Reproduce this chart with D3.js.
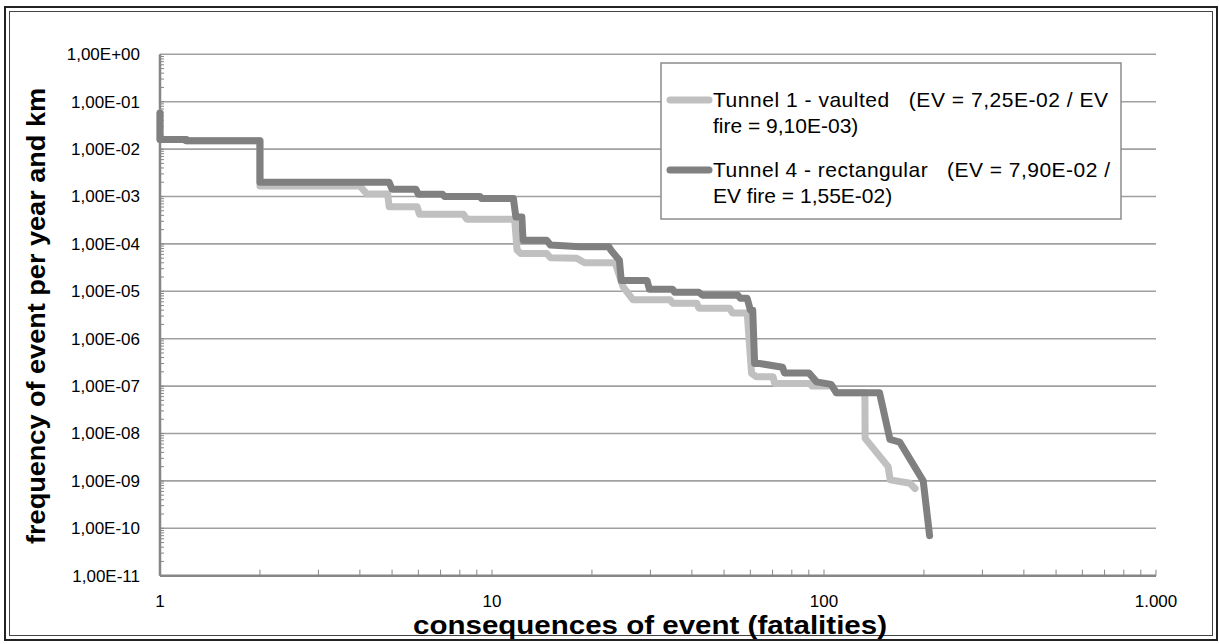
<!DOCTYPE html>
<html>
<head>
<meta charset="utf-8">
<script src="https://cdn.jsdelivr.net/npm/d3@7"></script>
<style>
  body { margin: 0; background: #fff; }
  text { font-family: "Liberation Sans", Arial, sans-serif; }
</style>
</head>
<body>
<div id="chart"></div>
<script>
const width = 1219;
const height = 644;

// data
const tunnel1X = [1, 1, 1.2, 1.2, 2, 2, 4.0, 4.2, 4.85, 4.9, 5.95, 6.05, 8.2, 8.4, 11.7, 11.9, 12.2,
  14.6, 15, 18, 19, 23.5, 24.8, 26.6, 34.4, 35, 41.4, 42, 52, 53, 58.7, 60.5, 62.5, 70.2, 71,
  90.7, 92, 106, 109, 132.8, 133, 156, 158.3, 181.6, 188];
const tunnel1Y = [5.8e-2, 1.6e-2, 1.6e-2, 1.5e-2, 1.5e-2, 1.67e-3, 1.67e-3, 1.13e-3, 1.13e-3, 6.1e-4,
  6.1e-4, 4.2e-4, 4.2e-4, 3.3e-4, 3.3e-4, 7.4e-5, 6.3e-5, 6.3e-5, 5.1e-5, 5.0e-5, 4.0e-5, 4.0e-5,
  1.25e-5, 6.6e-6, 6.6e-6, 5.6e-6, 5.6e-6, 4.4e-6, 4.4e-6, 3.5e-6, 3.5e-6, 1.86e-7, 1.58e-7, 1.58e-7,
  1.14e-7, 1.14e-7, 1.0e-7, 1.0e-7, 7.2e-8, 7.2e-8, 7.9e-9, 2.0e-9, 1.05e-9, 8.9e-10, 6.9e-10];

const tunnel4X = [1, 1, 1.2, 1.2, 2, 2, 4.9, 5.0, 5.9, 6.0, 7.1, 7.2, 9.2, 9.3, 11.6, 11.8, 12.3, 12.4,
  14.6, 15, 18.4, 22.5, 22.8, 24.2, 24.5, 29.3, 29.8, 35, 35.5, 42, 43, 55, 56, 58.7, 60, 61, 61.8,
  64, 75, 76, 90, 95, 105, 109, 147, 158, 169, 199, 208];
const tunnel4Y = [5.8e-2, 1.6e-2, 1.6e-2, 1.5e-2, 1.5e-2, 2.0e-3, 2.0e-3, 1.42e-3, 1.42e-3, 1.11e-3,
  1.11e-3, 1.0e-3, 1.0e-3, 9.1e-4, 9.1e-4, 3.7e-4, 3.7e-4, 1.2e-4, 1.2e-4, 9.5e-5, 8.7e-5, 8.7e-5,
  7.4e-5, 4.5e-5, 1.7e-5, 1.7e-5, 1.1e-5, 1.1e-5, 9.5e-6, 9.5e-6, 8.3e-6, 8.3e-6, 7.1e-6, 7.1e-6,
  4.0e-6, 4.0e-6, 3.0e-7, 3.0e-7, 2.5e-7, 1.9e-7, 1.9e-7, 1.23e-7, 1.09e-7, 7.2e-8, 7.2e-8, 7.5e-9,
  6.6e-9, 1.0e-9, 7e-11];

const seriesNames = ["Tunnel 1 - vaulted", "Tunnel 4 - rectangular"];
const legendLines = [
  ["Tunnel 1 - vaulted   (EV = 7,25E-02 / EV", "fire = 9,10E-03)"],
  ["Tunnel 4 - rectangular   (EV = 7,90E-02 /", "EV fire = 1,55E-02)"]
];
const seriesColors = ["#c0c0c0", "#808080"];

const yTickValues = [1, 1e-1, 1e-2, 1e-3, 1e-4, 1e-5, 1e-6, 1e-7, 1e-8, 1e-9, 1e-10, 1e-11];
const yTickLabels = ["1,00E+00", "1,00E-01", "1,00E-02", "1,00E-03", "1,00E-04", "1,00E-05",
  "1,00E-06", "1,00E-07", "1,00E-08", "1,00E-09", "1,00E-10", "1,00E-11"];
const xTickValues = [1, 10, 100, 1000];
const xTickLabels = ["1", "10", "100", "1.000"];

const xTitle = "consequences of event (fatalities)";
const yTitle = "frequency of event per year and km";

// Scales
const x = d3.scaleLog().domain([1, 1000]).range([160, 1156]);
const y = d3.scaleLog().domain([1e-11, 1]).range([575.7, 54.3]);

const svg = d3.select('#chart')
  .append('svg')
  .attr('width', width)
  .attr('height', height);

svg.append('rect').attr('width', width).attr('height', height).attr('fill', '#fff');

// double frame
svg.append('rect')
  .attr('x', 5).attr('y', 7).attr('width', 1212).attr('height', 633)
  .attr('fill', 'none').attr('stroke', '#222').attr('stroke-width', 2);
svg.append('rect')
  .attr('x', 9.5).attr('y', 11.5).attr('width', 1203).attr('height', 624)
  .attr('fill', 'none').attr('stroke', '#444').attr('stroke-width', 1);

// gridlines
svg.selectAll('line.grid')
  .data(yTickValues.slice(0, -1))
  .enter()
  .append('line')
  .attr('class', 'grid')
  .attr('x1', x(1)).attr('x2', x(1000))
  .attr('y1', d => y(d)).attr('y2', d => y(d))
  .attr('stroke', '#a0a0a0')
  .attr('stroke-width', 1.6);

// minor ticks
const yMinor = [];
for (let e = -11; e < 0; e++) for (let m = 1; m < 10; m++) yMinor.push(m * Math.pow(10, e));
const xMinor = [];
for (let e = 0; e < 3; e++) for (let m = 1; m < 10; m++) xMinor.push(m * Math.pow(10, e));
xMinor.push(1000);

svg.selectAll('line.yt')
  .data(yMinor)
  .enter()
  .append('line')
  .attr('class', 'yt')
  .attr('x1', x(1)).attr('x2', x(1) + 4)
  .attr('y1', d => y(d)).attr('y2', d => y(d))
  .attr('stroke', '#868686').attr('stroke-width', 1);

svg.selectAll('line.xt')
  .data(xMinor)
  .enter()
  .append('line')
  .attr('class', 'xt')
  .attr('x1', d => x(d)).attr('x2', d => x(d))
  .attr('y1', y(1e-11)).attr('y2', y(1e-11) - 6)
  .attr('stroke', '#868686').attr('stroke-width', 1);

// axis lines
svg.append('line')
  .attr('x1', x(1)).attr('x2', x(1))
  .attr('y1', y(1)).attr('y2', y(1e-11))
  .attr('stroke', '#868686').attr('stroke-width', 2.5);
svg.append('line')
  .attr('x1', x(1)).attr('x2', x(1000))
  .attr('y1', y(1e-11)).attr('y2', y(1e-11))
  .attr('stroke', '#868686').attr('stroke-width', 2.5);

// tick labels
svg.selectAll('text.ylab')
  .data(yTickValues)
  .enter()
  .append('text')
  .attr('class', 'ylab')
  .text((d, i) => yTickLabels[i])
  .attr('x', 140)
  .attr('y', d => y(d))
  .attr('dy', '0.35em')
  .attr('text-anchor', 'end')
  .attr('font-size', '17px')
  .attr('fill', '#000');

svg.selectAll('text.xlab')
  .data(xTickValues)
  .enter()
  .append('text')
  .attr('class', 'xlab')
  .text((d, i) => xTickLabels[i])
  .attr('x', d => x(d))
  .attr('y', 607)
  .attr('text-anchor', 'middle')
  .attr('font-size', '17px')
  .attr('fill', '#000');

// titles
svg.append('text')
  .text(xTitle)
  .attr('x', 650)
  .attr('y', 634)
  .attr('text-anchor', 'middle')
  .attr('font-size', '25px')
  .attr('font-weight', 'bold')
  .attr('textLength', 474)
  .attr('lengthAdjust', 'spacingAndGlyphs');

svg.append('text')
  .text(yTitle)
  .attr('transform', 'translate(45,316) rotate(-90)')
  .attr('text-anchor', 'middle')
  .attr('font-size', '25px')
  .attr('font-weight', 'bold')
  .attr('textLength', 456)
  .attr('lengthAdjust', 'spacingAndGlyphs');

// series
const line = d3.line()
  .x(d => x(d[0]))
  .y(d => y(d[1]));

const series = [
  d3.zip(tunnel1X, tunnel1Y),
  d3.zip(tunnel4X, tunnel4Y)
];

svg.selectAll('path.series')
  .data(series)
  .enter()
  .append('path')
  .attr('class', 'series')
  .attr('d', line)
  .attr('fill', 'none')
  .attr('stroke', (d, i) => seriesColors[i])
  .attr('stroke-width', 7)
  .attr('stroke-linejoin', 'round')
  .attr('stroke-linecap', 'round');

// legend
const legend = svg.append('g');
legend.append('rect')
  .attr('x', 661).attr('y', 63).attr('width', 460).attr('height', 156)
  .attr('fill', '#fff').attr('stroke', '#8c8c8c').attr('stroke-width', 1.5);

const legendItems = legend.selectAll('g.item')
  .data(seriesNames)
  .enter()
  .append('g')
  .attr('class', 'item')
  .attr('transform', (d, i) => 'translate(0,' + (i * 70) + ')');

legendItems.append('line')
  .attr('x1', 670).attr('x2', 709)
  .attr('y1', 100).attr('y2', 100)
  .attr('stroke', (d, i) => seriesColors[i])
  .attr('stroke-width', 7)
  .attr('stroke-linecap', 'round');

const firstLineLength = [395, 397];
legendItems.each(function (d, i) {
  const t = d3.select(this).append('text')
    .attr('font-size', '21px')
    .attr('fill', '#000')
    .style('white-space', 'pre');
  legendLines[i].forEach(function (s, k) {
    const ts = t.append('tspan')
      .attr('x', 713)
      .attr('y', 107 + k * 26)
      .text(s);
    if (k === 0) ts.attr('textLength', firstLineLength[i]).attr('lengthAdjust', 'spacing');
  });
});
</script>
</body>
</html>
